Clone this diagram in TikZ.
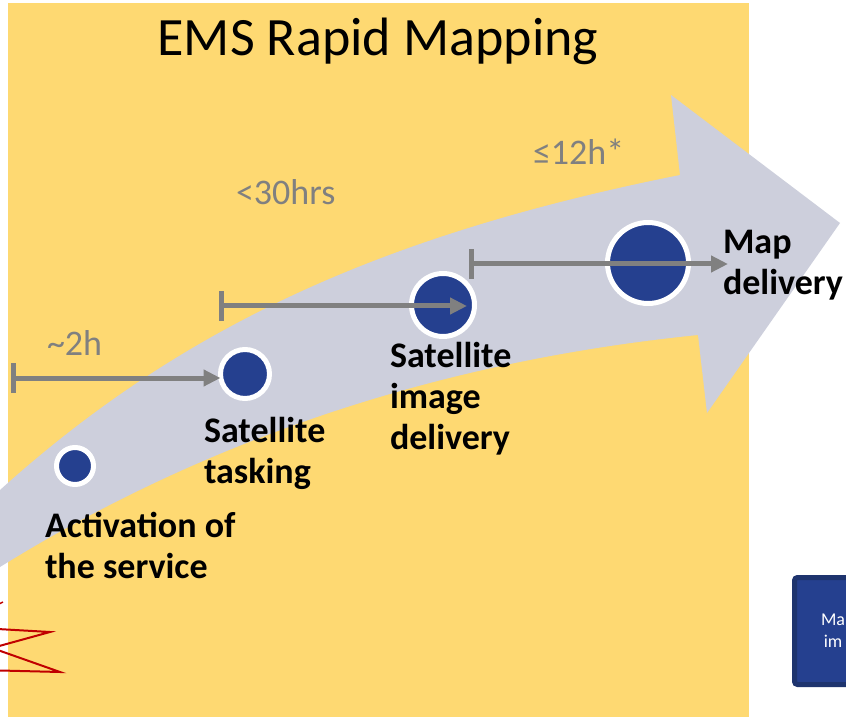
\documentclass[tikz,border=0pt]{standalone}
\usepackage{fontspec}
\setmainfont{Carlito}
\usetikzlibrary{positioning, arrows.meta}
\definecolor{emsyellow}{RGB}{254,217,114}
\definecolor{emsgray}{RGB}{205,207,220}
\definecolor{emsblue}{RGB}{37,64,143}
\definecolor{emsnavy}{RGB}{30,52,110}
\definecolor{emsred}{RGB}{192,0,0}
\definecolor{timegray}{RGB}{128,128,128}

\begin{document}
\begin{tikzpicture}
    [
      x=1pt, y=-1pt,
      every node/.style = {inner sep=0pt, outer sep=0pt},
      stage/.style = {shape=circle, fill=emsblue, draw=white, line width=5pt},
      stagelabel/.style = {anchor=base west, align=left, font=\fontsize{36}{41}\selectfont\bfseries},
      timelabel/.style = {anchor=base west, text=timegray, font=\fontsize{36}{41}\selectfont},
      span/.style = {draw=timegray, line width=5pt, {Bar[width=30pt]}-{Triangle[length=17pt,width=16pt]}},
      mapbox/.style = {shape=rectangle, rounded corners=3pt, fill=emsblue, draw=emsnavy, line width=5pt,
        align=center, text=white, font=\fontsize{18}{22}\selectfont}
    ]
    \useasboundingbox (0,0) rectangle (846,719);
    \clip (0,0) rectangle (846,719);

    \fill[emsyellow] (8,3) rectangle (749,717);

    % curved arrow
    \fill[emsgray] (-20,508) -- (0,490) .. controls (180,328) and (380,235) .. (680,175)
      -- (671,95) -- (840,223) -- (707,413) -- (698,335)
      .. controls (500,355) and (250,412) .. (0,567) -- (-20,580) -- cycle;

    \draw[emsred, line width=2pt] (-20,628) -- (50,632) -- (-8,648) -- (60,672) -- (-20,670);
    \draw[emsred, line width=1.5pt] (-15,611) -- (3,602);

    \node[mapbox, minimum width=77pt, minimum height=107pt] (box) at (833,631) {Ma\\im};

    \node[anchor=base, font=\fontsize{54}{60}\selectfont] (title) at (378,56) {EMS Rapid Mapping};

    \node[stage, minimum size=37pt] (c1) at (75,466) {};
    \node[stage, minimum size=49pt] (c2) at (245,374) {};
    \node[stage, minimum size=63pt] (c3) at (443,305) {};
    \node[stage, minimum size=81pt] (c4) at (648,263) {};

    % base is the last line here
    \node[stagelabel] (act) at (45,578) {Activation of\\the service};
    \node[stagelabel] (task) at (204,483) {Satellite\\tasking};
    \node[stagelabel] (img) at (390,449) {Satellite\\image\\delivery};
    \node[stagelabel] (map) at (723,295) {Map\\delivery};

    \node[timelabel] (t1) at (47,355) {\textasciitilde2h};
    \node[timelabel] (t2) at (236,205) {<30hrs};
    \node[timelabel] (t3) at (533,165) {≤12h*};

    \coordinate (s1) at (11,378);
    \coordinate (s2) at (219,306);
    \coordinate (e2) at (467,306);
    \coordinate (s3) at (469,264);
    \coordinate (e3) at (728,264);
    \draw[span] (s1) -- (s1 -| c2.west);
    \draw[span] (s2) -- (e2);
    \draw[span] (s3) -- (e3);
\end{tikzpicture}
\end{document}
